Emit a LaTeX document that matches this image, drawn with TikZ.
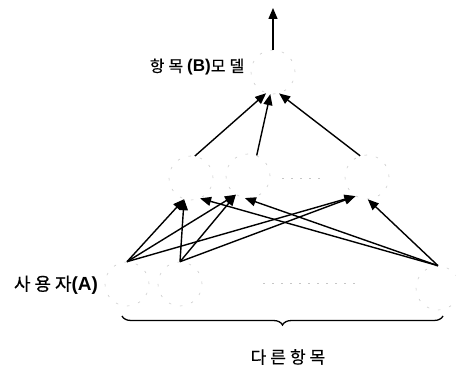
\documentclass[tikz,border=0pt]{standalone}
\usepackage{fontspec}
\setmainfont{Liberation Sans}
\newfontfamily\kr[FakeBold=0.5]{Noto Sans CJK KR}
\usetikzlibrary{arrows.meta,decorations.pathreplacing}
\newcommand\ks{\hspace{4pt}}
\begin{document}
\begin{tikzpicture}[x=1pt,y=-1pt,
  unit/.style={circle, minimum size=44pt, inner sep=0pt, draw=gray!40, line width=0.6pt, dash pattern=on 2.5pt off 9pt},
  conn/.style={line width=1.4pt, -{Triangle[length=11pt,width=9pt]}},
  faint/.style={draw=gray!45, line width=0.6pt, dash pattern=on 2pt off 7pt},
  lbl/.style={inner sep=0pt, font=\kr\fontsize{16}{18}\selectfont}]
\useasboundingbox (0,0) rectangle (456,374);
% nodes
\node[unit] (T) at (273,72) {};
\node[unit] (M1) at (191,178) {};
\node[unit] (M2) at (248,176) {};
\node[unit] (M3) at (367,177) {};
\node[unit] (B1) at (127,284) {};
\node[unit] (B2) at (180,284) {};
\node[unit] (B3) at (438,288) {};
\coordinate (out) at (273,8);
% faint dots rows
\coordinate (md1) at (282,178); \coordinate (md2) at (326,178);
\coordinate (bd1) at (263,283); \coordinate (bd2) at (358,283);
\draw[faint] (md1) -- (md2);
\draw[faint] (bd1) -- (bd2);
% output arrow
\draw[conn] (T.north) -- (out);
% hidden to top
\draw[conn] (M1.80) -- (T.252);
\draw[conn] (M2.67) -- (T.263);
\draw[conn] (M3.108) -- (T.286);
% input to hidden
\draw[conn] (B1.north) -- (M1.252);
\draw[conn] (B2.north) -- (M1.252);
\draw[conn] (B3.north) -- (M1.294);
\draw[conn] (B1.north) -- (M2.237);
\draw[conn] (B2.north) -- (M2.237);
\draw[conn] (B3.north) -- (M2.262);
\draw[conn] (B1.north) -- (M3.239);
\draw[conn] (B2.north) -- (M3.239);
\draw[conn] (B3.north) -- (M3.272);
% labels
\node[lbl] (lb) at (197,67) {항\ks 목\ks{\rmfamily\bfseries\fontsize{17}{18}\selectfont (B)}모\ks 델};
\node[lbl, font=\kr\fontsize{18}{20}\selectfont] (la) at (56,285) {사\ks 용\ks 자{\rmfamily\bfseries\fontsize{19}{20}\selectfont (A)}};
% brace
\coordinate (brl) at (122,316);
\coordinate (brr) at (443,316);
\draw[line width=1.3pt, decorate, decoration={brace, mirror, amplitude=9pt}] (brl) -- (brr);
\node[lbl, font=\kr\fontsize{17}{19}\selectfont] (lc) at (288,357) {다\ks 른\ks 항\ks 목};
\end{tikzpicture}
\end{document}
